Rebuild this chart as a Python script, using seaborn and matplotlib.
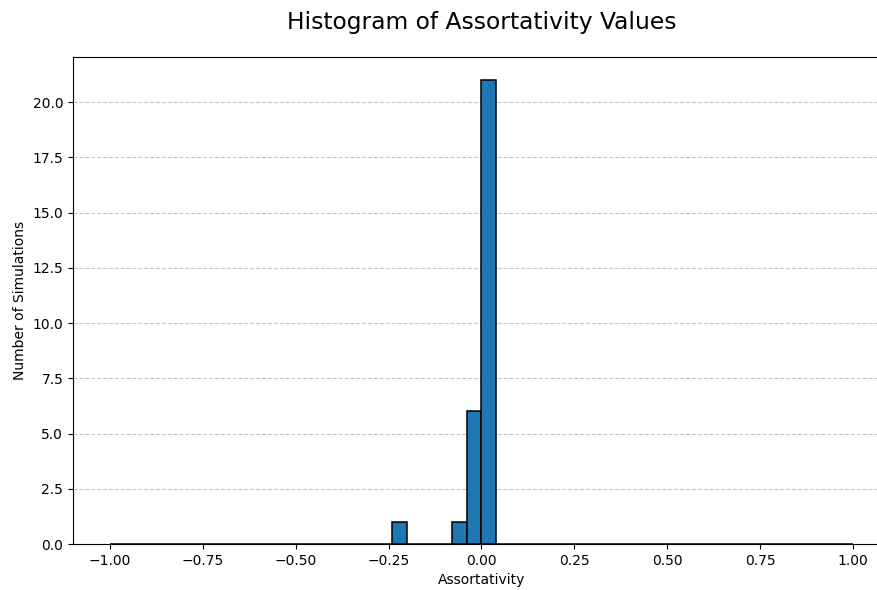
import numpy as np
import matplotlib
matplotlib.use("Agg")
import matplotlib.pyplot as plt
import seaborn as sns

# Assortativity coefficient of each simulation run
assortativity = (
    [-0.22]
    + [-0.06]
    + [-0.02] * 6
    + [0.01] * 21
)
bin_edges = np.linspace(-1.0, 1.0, 51)

sns.set_style("ticks")
plt.rcParams["font.family"] = ["DejaVu Sans"]
plt.rcParams["text.color"] = "black"
plt.rcParams["axes.labelcolor"] = "black"
plt.rcParams["xtick.color"] = "black"
plt.rcParams["ytick.color"] = "black"

fig = plt.figure(figsize=(8.78, 5.90), dpi=100)
ax = fig.add_axes([73 / 878, 46 / 590, (890 - 73) / 878, (544 - 57) / 590])

sns.histplot(x=assortativity, bins=bin_edges, color="#1f77b4", alpha=1.0,
             edgecolor="black", linewidth=1.1, ax=ax)

ax.set_xlim(-1.1, 1.1)
ax.set_ylim(0, 22.05)
ax.set_xticks([-1.0, -0.75, -0.5, -0.25, 0.0, 0.25, 0.5, 0.75, 1.0])
ax.set_yticks(np.arange(0, 22.5, 2.5))
ax.tick_params(labelsize=10)
ax.grid(axis="y", linestyle="--", color="#b0b0b0", alpha=0.7)
ax.grid(axis="x", visible=False)
ax.set_axisbelow(True)
for s in ax.spines.values():
    s.set_color("black")

ax.set_title("Histogram of Assortativity Values", fontsize=16.8, pad=20, color="black")
ax.set_xlabel("Assortativity", fontsize=10)
ax.set_ylabel("Number of Simulations", fontsize=10)

fig.savefig("out.png", dpi=100)
